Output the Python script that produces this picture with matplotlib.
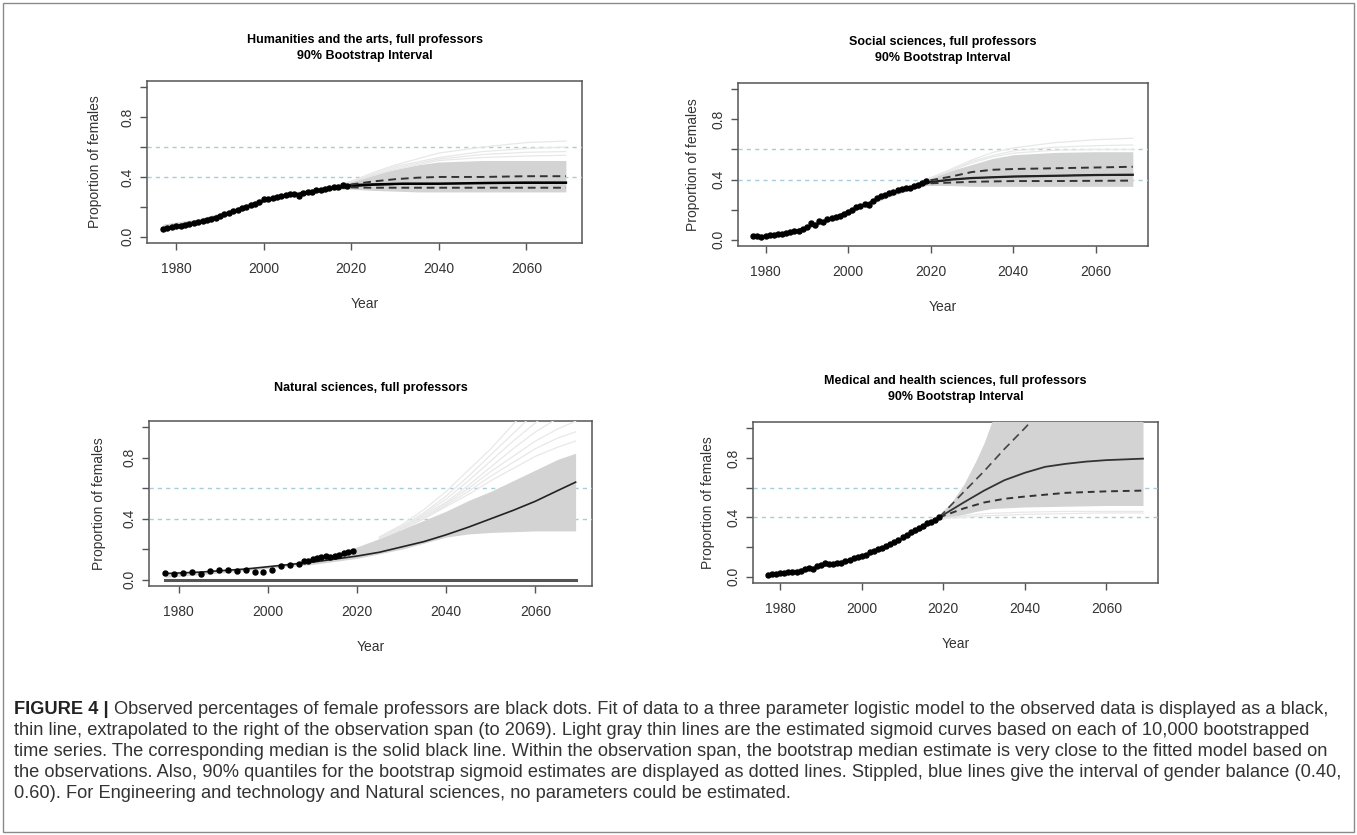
import matplotlib
matplotlib.use('Agg')
import matplotlib.pyplot as plt
from matplotlib.patches import Rectangle

plt.rcParams['font.family'] = ['Liberation Sans', 'DejaVu Sans']

W, H = 1357, 835

# ---------------- observed data ----------------
obs_years = list(range(1977, 2020))

hum_obs = [0.055, 0.062, 0.065, 0.070, 0.075, 0.080, 0.088, 0.095, 0.100, 0.108,
           0.115, 0.122, 0.128, 0.140, 0.150, 0.160, 0.170, 0.180, 0.190, 0.200,
           0.212, 0.222, 0.235, 0.250, 0.255, 0.262, 0.268, 0.272, 0.278, 0.283,
           0.285, 0.270, 0.292, 0.298, 0.302, 0.310, 0.315, 0.320, 0.326, 0.330,
           0.334, 0.345, 0.340]

soc_obs = [0.025, 0.025, 0.015, 0.025, 0.030, 0.030, 0.035, 0.040, 0.045, 0.050,
           0.055, 0.060, 0.070, 0.085, 0.110, 0.100, 0.125, 0.115, 0.140, 0.145,
           0.150, 0.160, 0.170, 0.185, 0.200, 0.215, 0.225, 0.240, 0.230, 0.260,
           0.275, 0.290, 0.300, 0.310, 0.320, 0.330, 0.340, 0.345, 0.345, 0.355,
           0.365, 0.375, 0.390]

nat_years = [1977, 1979, 1981, 1983, 1985, 1987, 1989, 1991, 1993, 1995, 1997, 1999,
             2001, 2003, 2005, 2007, 2008, 2009, 2010, 2011, 2012, 2013, 2014, 2015,
             2016, 2017, 2018, 2019]
nat_obs = [0.043, 0.034, 0.043, 0.050, 0.037, 0.058, 0.065, 0.065, 0.058, 0.062, 0.052, 0.052,
           0.062, 0.088, 0.095, 0.101, 0.125, 0.125, 0.136, 0.140, 0.146, 0.157, 0.150, 0.153,
           0.161, 0.176, 0.181, 0.190]

med_obs = [0.015, 0.020, 0.022, 0.025, 0.027, 0.030, 0.032, 0.035, 0.038, 0.050,
           0.060, 0.055, 0.070, 0.080, 0.090, 0.085, 0.088, 0.090, 0.095, 0.105,
           0.115, 0.125, 0.133, 0.140, 0.150, 0.165, 0.175, 0.185, 0.195, 0.210,
           0.220, 0.235, 0.250, 0.265, 0.280, 0.300, 0.315, 0.330, 0.345, 0.360,
           0.370, 0.385, 0.400]

# ---------------- Humanities curves ----------------
hum_fit_x = [1977, 1980, 1985, 1990, 1995, 2000, 2005, 2010, 2015, 2020, 2025, 2030, 2040, 2050, 2060, 2069]
hum_fit_y = [0.055, 0.07, 0.10, 0.14, 0.19, 0.24, 0.27, 0.30, 0.32, 0.335, 0.345, 0.35, 0.355, 0.357, 0.358, 0.358]
hum_med_x = [1977, 1985, 1990, 2000, 2010, 2017, 2020, 2025, 2032, 2040, 2052, 2060, 2069]
hum_med_y = [0.055, 0.10, 0.14, 0.24, 0.30, 0.33, 0.345, 0.35, 0.355, 0.355, 0.36, 0.362, 0.362]
hum_qhi_x = [2017, 2020, 2025, 2030, 2035, 2040, 2050, 2060, 2069]
hum_qhi_y = [0.335, 0.35, 0.37, 0.385, 0.395, 0.40, 0.40, 0.405, 0.405]
hum_qlo_x = [2017, 2020, 2025, 2030, 2040, 2050, 2069]
hum_qlo_y = [0.325, 0.33, 0.328, 0.328, 0.328, 0.328, 0.328]
hum_band_x = [1977, 1985, 1990, 1995, 2000, 2005, 2010, 2015, 2019, 2025, 2030, 2035, 2040, 2050, 2060, 2069]
hum_band_lo = [0.04, 0.09, 0.13, 0.18, 0.23, 0.265, 0.29, 0.31, 0.32, 0.31, 0.305, 0.30, 0.30, 0.30, 0.30, 0.30]
hum_band_hi = [0.085, 0.12, 0.16, 0.21, 0.265, 0.29, 0.315, 0.34, 0.37, 0.42, 0.45, 0.48, 0.50, 0.51, 0.51, 0.51]
hum_light_x = [2019, 2025, 2030, 2035, 2040, 2050, 2060, 2069]
hum_light = [[0.36, 0.43, 0.48, 0.52, 0.56, 0.60, 0.63, 0.64],
             [0.36, 0.42, 0.47, 0.50, 0.53, 0.57, 0.59, 0.60],
             [0.36, 0.41, 0.46, 0.49, 0.52, 0.55, 0.565, 0.57],
             [0.36, 0.41, 0.45, 0.48, 0.51, 0.53, 0.54, 0.545]]

# ---------------- Social sciences curves ----------------
soc_fit_x = [1977, 1980, 1985, 1990, 1995, 2000, 2005, 2010, 2015, 2019, 2025, 2030, 2040, 2050, 2060, 2069]
soc_fit_y = [0.02, 0.025, 0.045, 0.08, 0.13, 0.185, 0.245, 0.30, 0.345, 0.375, 0.40, 0.41, 0.42, 0.425, 0.43, 0.43]
soc_med_x = soc_fit_x
soc_med_y = [0.02, 0.025, 0.045, 0.08, 0.13, 0.185, 0.245, 0.30, 0.345, 0.38, 0.40, 0.41, 0.42, 0.425, 0.43, 0.432]
soc_qhi_x = [2017, 2020, 2025, 2030, 2035, 2040, 2050, 2060, 2069]
soc_qhi_y = [0.37, 0.395, 0.42, 0.45, 0.465, 0.47, 0.475, 0.48, 0.485]
soc_qlo_x = [2017, 2020, 2025, 2030, 2040, 2050, 2069]
soc_qlo_y = [0.36, 0.375, 0.38, 0.385, 0.39, 0.39, 0.393]
soc_band_x = [1977, 1985, 1990, 1995, 2000, 2005, 2010, 2015, 2019, 2025, 2030, 2035, 2040, 2050, 2060, 2069]
soc_band_lo = [0.01, 0.035, 0.07, 0.115, 0.17, 0.23, 0.285, 0.33, 0.36, 0.36, 0.355, 0.355, 0.355, 0.355, 0.355, 0.355]
soc_band_hi = [0.035, 0.055, 0.09, 0.145, 0.20, 0.26, 0.315, 0.36, 0.40, 0.46, 0.50, 0.54, 0.565, 0.58, 0.585, 0.585]
soc_light_x = [2019, 2025, 2030, 2035, 2040, 2050, 2060, 2069]
soc_light = [[0.40, 0.47, 0.53, 0.58, 0.61, 0.645, 0.665, 0.675],
             [0.40, 0.46, 0.52, 0.56, 0.59, 0.615, 0.625, 0.63],
             [0.40, 0.46, 0.51, 0.55, 0.575, 0.595, 0.60, 0.60]]

# ---------------- Natural sciences curves ----------------
nat_fit_x = [1977, 2069]
nat_fit_y = [0.0, 0.0]
nat_med_x = [1977, 1985, 1990, 1995, 2000, 2005, 2010, 2015, 2020, 2025, 2030, 2035, 2040, 2045, 2050, 2055, 2060, 2065, 2069]
nat_med_y = [0.04, 0.05, 0.06, 0.07, 0.085, 0.10, 0.115, 0.135, 0.155, 0.18, 0.215, 0.25, 0.295, 0.345, 0.40, 0.455, 0.515, 0.585, 0.64]
nat_band_x = [1977, 1990, 2000, 2010, 2020, 2025, 2030, 2035, 2040, 2045, 2050, 2055, 2060, 2065, 2069]
nat_band_lo = [0.015, 0.045, 0.075, 0.10, 0.14, 0.17, 0.20, 0.24, 0.28, 0.30, 0.31, 0.315, 0.32, 0.32, 0.32]
nat_band_hi = [0.035, 0.06, 0.09, 0.13, 0.215, 0.27, 0.33, 0.39, 0.45, 0.52, 0.58, 0.65, 0.72, 0.79, 0.83]
nat_light_x = [2025, 2030, 2035, 2040, 2045, 2050, 2055, 2060, 2065, 2069]
nat_light = [[0.28, 0.36, 0.46, 0.58, 0.72, 0.86, 1.02, 1.18, 1.30, 1.40],
             [0.28, 0.35, 0.44, 0.55, 0.68, 0.82, 0.96, 1.10, 1.22, 1.30],
             [0.27, 0.34, 0.43, 0.53, 0.65, 0.78, 0.91, 1.03, 1.14, 1.20],
             [0.27, 0.34, 0.42, 0.51, 0.62, 0.74, 0.86, 0.97, 1.06, 1.12],
             [0.27, 0.33, 0.41, 0.50, 0.60, 0.71, 0.81, 0.91, 0.99, 1.04],
             [0.27, 0.33, 0.40, 0.49, 0.58, 0.68, 0.77, 0.86, 0.93, 0.97],
             [0.27, 0.33, 0.40, 0.48, 0.56, 0.65, 0.73, 0.81, 0.87, 0.91]]

# ---------------- Medical and health curves ----------------
med_fit_x = [1977, 1985, 1990, 1995, 2000, 2005, 2010, 2015, 2019, 2025, 2030, 2035, 2040, 2045, 2050, 2055, 2060, 2069]
med_fit_y = [0.015, 0.04, 0.07, 0.10, 0.14, 0.19, 0.255, 0.33, 0.40, 0.50, 0.58, 0.65, 0.70, 0.74, 0.76, 0.775, 0.785, 0.795]
med_qhi_x = [2019, 2025, 2030, 2035, 2040, 2045]
med_qhi_y = [0.40, 0.57, 0.71, 0.86, 1.00, 1.15]
med_qlo_x = [2019, 2025, 2030, 2035, 2040, 2050, 2060, 2069]
med_qlo_y = [0.40, 0.46, 0.50, 0.525, 0.54, 0.565, 0.575, 0.58]
med_band_x = [1977, 1990, 2000, 2010, 2019, 2022, 2025, 2028, 2030, 2032, 2040, 2050, 2060, 2069]
med_band_lo = [0.005, 0.065, 0.125, 0.245, 0.385, 0.40, 0.42, 0.44, 0.45, 0.46, 0.47, 0.475, 0.48, 0.48]
med_band_hi = [0.025, 0.085, 0.15, 0.27, 0.42, 0.50, 0.62, 0.78, 0.90, 1.05, 1.2, 1.2, 1.2, 1.2]
med_light_x = [2019, 2025, 2030, 2040, 2050, 2060, 2069]
med_light = [[0.39, 0.41, 0.425, 0.435, 0.44, 0.44, 0.44],
             [0.39, 0.40, 0.41, 0.42, 0.425, 0.43, 0.43]]

balance = [0.4, 0.6]
x_ticks = [1980, 2000, 2020, 2040, 2060]
y_ticks = [0.0, 0.2, 0.4, 0.6, 0.8, 1.0]
y_ticklabels = ['0.0', '', '0.4', '', '0.8', '']

caption_bold = 'FIGURE 4 |'
caption_lines = [
    'Observed percentages of female professors are black dots. Fit of data to a three parameter logistic model to the observed data is displayed as a black,',
    'thin line, extrapolated to the right of the observation span (to 2069). Light gray thin lines are the estimated sigmoid curves based on each of 10,000 bootstrapped',
    'time series. The corresponding median is the solid black line. Within the observation span, the bootstrap median estimate is very close to the fitted model based on',
    'the observations. Also, 90% quantiles for the bootstrap sigmoid estimates are displayed as dotted lines. Stippled, blue lines give the interval of gender balance (0.40,',
    '0.60). For Engineering and technology and Natural sciences, no parameters could be estimated.',
]

# ---------------- figure ----------------
fig = plt.figure(figsize=(W / 100, H / 100), dpi=100)
fig.patches.append(Rectangle((3 / W, 3 / H), (W - 6) / W, (H - 6) / H, transform=fig.transFigure,
                             fill=False, edgecolor='#8a8a8a', lw=1))


def make_axes(x0, y0, x1, y1, title, ylabpad):
    ax = fig.add_axes([x0 / W, 1 - y1 / H, (x1 - x0) / W, (y1 - y0) / H])
    ax.set_xlim(1973.32, 2072.68)
    ax.set_ylim(-0.0416, 1.0416)
    ax.set_xticks(x_ticks)
    ax.set_yticks(y_ticks)
    ax.set_yticklabels(y_ticklabels)
    ax.tick_params(direction='out', length=5, width=1, color='#555555', labelcolor='#333333',
                   labelsize=10)
    ax.tick_params(axis='x', pad=9)
    ax.tick_params(axis='y', pad=4, labelrotation=90)
    for lab in ax.get_yticklabels():
        lab.set_va('center')
    for s in ax.spines.values():
        s.set_color('#555555')
        s.set_linewidth(1.1)
        s.set_zorder(0.5)
    ax.set_xlabel('Year', fontsize=10, color='#333333', labelpad=15)
    ax.set_ylabel('Proportion of females', fontsize=10, color='#333333', labelpad=ylabpad)
    cx = (x0 + x1) / 2 / W
    if len(title) == 2:
        fig.text(cx, 1 - (y0 - 41) / H, title[0], ha='center', va='center', fontsize=9, weight='bold')
        fig.text(cx, 1 - (y0 - 25) / H, title[1], ha='center', va='center', fontsize=9, weight='bold')
    else:
        fig.text(cx, 1 - (y0 - 33) / H, title[0], ha='center', va='center', fontsize=9, weight='bold')
    for b in balance:
        ax.axhline(b, color='#a9cdd6', lw=1, dashes=(3, 3), zorder=0.8)
    return ax


def draw_fan(ax, bx, blo, bhi, lx, lights):
    ax.fill_between(bx, blo, bhi, color='#d3d3d3', lw=0, zorder=1)
    for ly in lights:
        ax.plot(lx, ly, color='#e8e8e8', lw=0.9, zorder=1.2)


# Humanities
ax1 = make_axes(147, 81, 582, 243, ['Humanities and the arts, full professors', '90% Bootstrap Interval'], 13)
draw_fan(ax1, hum_band_x, hum_band_lo, hum_band_hi, hum_light_x, hum_light)
ax1.plot(hum_fit_x, hum_fit_y, color='black', lw=0.8, zorder=3)
ax1.plot(hum_med_x, hum_med_y, color='black', lw=1.8, zorder=3)
ax1.plot(hum_qhi_x, hum_qhi_y, color='#333333', lw=1.4, dashes=(4, 2.5), zorder=3)
ax1.plot(hum_qlo_x, hum_qlo_y, color='#333333', lw=1.4, dashes=(4, 2.5), zorder=3)
ax1.plot(obs_years, hum_obs, 'o', color='black', ms=3.6, zorder=4)

# Social sciences
ax2 = make_axes(738, 83, 1148, 246, ['Social sciences, full professors', '90% Bootstrap Interval'], 8)
draw_fan(ax2, soc_band_x, soc_band_lo, soc_band_hi, soc_light_x, soc_light)
ax2.plot(soc_fit_x, soc_fit_y, color='black', lw=0.8, zorder=3)
ax2.plot(soc_med_x, soc_med_y, color='#222222', lw=1.6, zorder=3)
ax2.plot(soc_qhi_x, soc_qhi_y, color='#333333', lw=1.4, dashes=(4, 2.5), zorder=3)
ax2.plot(soc_qlo_x, soc_qlo_y, color='#333333', lw=1.4, dashes=(4, 2.5), zorder=3)
ax2.plot(obs_years, soc_obs, 'o', color='black', ms=3.6, zorder=4)

# Natural sciences
ax3 = make_axes(149, 421, 592, 586, ['Natural sciences, full professors'], 12)
draw_fan(ax3, nat_band_x, nat_band_lo, nat_band_hi, nat_light_x, nat_light)
ax3.plot(nat_fit_x, nat_fit_y, color='#555555', lw=2.2, zorder=3)
ax3.plot(nat_med_x, nat_med_y, color='#222222', lw=1.2, zorder=3)
ax3.plot(nat_years, nat_obs, 'o', color='black', ms=3.6, zorder=4)

# Medical and health sciences
ax4 = make_axes(753, 422, 1158, 583, ['Medical and health sciences, full professors', '90% Bootstrap Interval'], 8)
draw_fan(ax4, med_band_x, med_band_lo, med_band_hi, med_light_x, med_light)
ax4.plot(med_fit_x, med_fit_y, color='#333333', lw=1.3, zorder=3)
ax4.plot(med_qhi_x, med_qhi_y, color='#444444', lw=1.2, dashes=(5, 3), zorder=3)
ax4.plot(med_qlo_x, med_qlo_y, color='#333333', lw=1.4, dashes=(3.5, 2.5), zorder=3)
ax4.plot(obs_years, med_obs, 'o', color='black', ms=3.6, zorder=4)

# ---------------- caption ----------------
cap_font = ['Liberation Sans Narrow', 'Liberation Sans', 'DejaVu Sans']
cap_base = [714, 735, 756, 777, 798]
cap_x0, cap_x1 = 14, 1324
cap_size = 13
t_bold = fig.text(cap_x0 / W, 1 - cap_base[0] / H, caption_bold, family=cap_font, weight='bold',
                  fontsize=cap_size, va='baseline', color='#222222')
cap_texts = []
for i, line in enumerate(caption_lines):
    cap_texts.append(fig.text(cap_x0 / W, 1 - cap_base[i] / H, line, family=cap_font,
                              fontsize=cap_size, va='baseline', color='#333333'))


def place_first_line():
    fig.canvas.draw()
    r = fig.canvas.get_renderer()
    bb = t_bold.get_window_extent(r)
    cap_texts[0].set_x((bb.x1 + 5) / W)
    fig.canvas.draw()
    return bb.x0, cap_texts[0].get_window_extent(r).x1


left, right = place_first_line()
scale = (cap_x1 - cap_x0) / (right - left)
for t in [t_bold] + cap_texts:
    t.set_fontsize(cap_size * scale)
place_first_line()

fig.savefig('out.png', dpi=100)
